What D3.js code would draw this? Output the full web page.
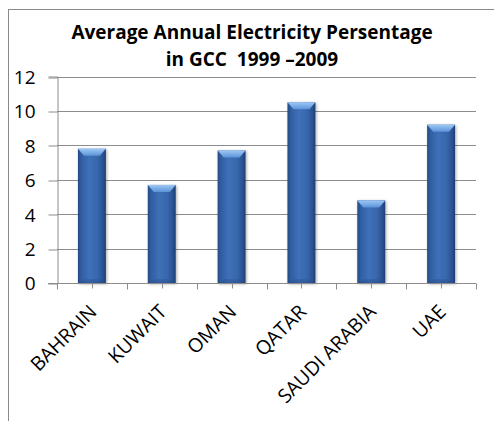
<!DOCTYPE html>
<html>
<head>
<meta charset="utf-8">
<script src="https://cdn.jsdelivr.net/npm/d3@7/dist/d3.min.js"></script>
<style>
  html, body { margin: 0; padding: 0; background: #fff; }
  svg { display: block; }
  text { font-family: "Open Sans", "Liberation Sans", sans-serif; fill: #000; }
</style>
</head>
<body>
<svg id="chart" width="494" height="421"></svg>
<script>
// Average annual electricity growth (%) per GCC country, 1999–2009
const countries = ["BAHRAIN", "KUWAIT", "OMAN", "QATAR", "SAUDI ARABIA", "UAE"];
const percentages = [7.8, 5.7, 7.7, 10.5, 4.8, 9.2];
const yTicks = [0, 2, 4, 6, 8, 10, 12];
const titleLines = ["Average Annual Electricity Persentage", "in GCC  1999 \u20132009"];

const svg = d3.select("#chart");
const W = 494, H = 421;
const plot = { left: 57, right: 476, top: 76.5, bottom: 283 };

// chart area frame (extends past the right and bottom edges)
svg.append("rect")
  .attr("x", 8.5).attr("y", 9.5)
  .attr("width", W).attr("height", H)
  .attr("fill", "#fff").attr("stroke", "#8a8a8a").attr("stroke-width", 1);

const defs = svg.append("defs");

const body = defs.append("linearGradient").attr("id", "barBody")
  .attr("x1", "0%").attr("x2", "100%").attr("y1", "0%").attr("y2", "0%");
[["0%", "#244a84"], ["12%", "#305ea0"], ["40%", "#3e70b8"], ["70%", "#3867ab"], ["90%", "#2a5191"], ["100%", "#1f3d70"]]
  .forEach(([o, c]) => body.append("stop").attr("offset", o).attr("stop-color", c));

const cap = defs.append("linearGradient").attr("id", "barCap")
  .attr("x1", "0%").attr("x2", "0%").attr("y1", "0%").attr("y2", "100%");
[["0%", "#9cc8f5"], ["100%", "#5c93d8"]]
  .forEach(([o, c]) => cap.append("stop").attr("offset", o).attr("stop-color", c));

const foot = defs.append("linearGradient").attr("id", "barFoot")
  .attr("x1", "0%").attr("x2", "0%").attr("y1", "0%").attr("y2", "100%");
[["0%", "#2d5798"], ["100%", "#22427a"]]
  .forEach(([o, c]) => foot.append("stop").attr("offset", o).attr("stop-color", c));

const shadow = defs.append("filter").attr("id", "barShadow")
  .attr("x", "-30%").attr("y", "-10%").attr("width", "160%").attr("height", "120%");
shadow.append("feGaussianBlur").attr("in", "SourceAlpha").attr("stdDeviation", 1.6).attr("result", "b");
shadow.append("feOffset").attr("in", "b").attr("dx", 0.5).attr("dy", 0.5).attr("result", "o");
shadow.append("feComponentTransfer").attr("in", "o").attr("result", "s")
  .append("feFuncA").attr("type", "linear").attr("slope", 0.35);
const merge = shadow.append("feMerge");
merge.append("feMergeNode").attr("in", "s");
merge.append("feMergeNode").attr("in", "SourceGraphic");

// scales
const x = d3.scaleBand().domain(countries)
  .range([plot.left, plot.right]).paddingInner(0.6).paddingOuter(0.3);
const y = d3.scaleLinear().domain([0, 12]).range([plot.bottom, plot.top]);

// horizontal gridlines
svg.append("g")
  .selectAll("line").data(yTicks.filter(d => d > 0)).join("line")
  .attr("x1", plot.left).attr("x2", plot.right)
  .attr("y1", d => Math.round(y(d)) + 0.5).attr("y2", d => Math.round(y(d)) + 0.5)
  .attr("stroke", "#8c8c8c").attr("stroke-width", 1);

// y axis
const yAxis = svg.append("g")
  .attr("transform", `translate(${plot.left + 0.5},0)`)
  .call(d3.axisLeft(y).tickValues(yTicks).tickSize(9).tickPadding(13).tickFormat(d3.format("d")));
yAxis.selectAll("line").attr("stroke", "#8c8c8c")
  .attr("transform", d => `translate(0,${Math.round(y(d)) + 0.5 - y(d)})`);
yAxis.select(".domain").attr("stroke", "#8c8c8c");
yAxis.selectAll("text").attr("font-size", 19).attr("dy", "0.36em")
  .style("font-family", "'Open Sans', sans-serif");

// bars
const bars = svg.append("g").selectAll("g").data(countries).join("g")
  .attr("filter", "url(#barShadow)");
bars.each(function (c, i) {
  const g = d3.select(this);
  const x0 = x(c), w = x.bandwidth();
  const yTop = y(percentages[i]), yBot = y(0);
  const bev = 7, ins = 6;
  g.append("rect").attr("x", x0).attr("y", yTop).attr("width", w).attr("height", yBot - yTop)
    .attr("fill", "url(#barBody)");
  g.append("polygon")
    .attr("points", [[x0 + 1, yBot], [x0 + w - 1, yBot], [x0 + w - ins, yBot - 4], [x0 + ins, yBot - 4]].join(" "))
    .attr("fill", "url(#barFoot)").attr("opacity", 0.4);
  g.append("polygon")
    .attr("points", [[x0, yTop], [x0 + w, yTop], [x0 + w - ins, yTop + bev], [x0 + ins, yTop + bev]].join(" "))
    .attr("fill", "url(#barCap)");
});

// x axis: boundary ticks plus centre ticks
const xAxisG = svg.append("g").attr("transform", `translate(0,${Math.round(plot.bottom) + 0.5})`);
xAxisG.append("line").attr("x1", plot.left - 9).attr("x2", plot.right)
  .attr("stroke", "#8c8c8c");
const step = x.step();
const bounds = d3.range(countries.length + 1).map(k => plot.left + k * step);
xAxisG.selectAll("line.b").data(bounds).join("line").attr("class", "b")
  .attr("x1", d => Math.round(d) + 0.5).attr("x2", d => Math.round(d) + 0.5)
  .attr("y1", 0).attr("y2", 6).attr("stroke", "#8c8c8c");
xAxisG.selectAll("line.c").data(countries).join("line").attr("class", "c")
  .attr("x1", d => Math.round(x(d) + x.bandwidth() / 2) + 0.5)
  .attr("x2", d => Math.round(x(d) + x.bandwidth() / 2) + 0.5)
  .attr("y1", 0).attr("y2", 5).attr("stroke", "#8c8c8c");

// rotated category labels
const xLabels = svg.append("g")
  .attr("transform", `translate(0,${plot.bottom})`)
  .call(d3.axisBottom(x).tickSize(0).tickPadding(0));
xLabels.select(".domain").remove();
xLabels.selectAll("text")
  .attr("font-size", 19.5)
  .style("font-family", "'Open Sans', sans-serif")
  .attr("text-anchor", "end")
  .attr("y", 0).attr("dy", 0)
  .attr("transform", "translate(6,30) rotate(-45)");

// title
svg.append("g").selectAll("text").data(titleLines).join("text")
  .attr("x", 252).attr("y", (d, i) => 39 + i * 27)
  .attr("text-anchor", "middle")
  .attr("font-size", 19).attr("font-weight", "bold")
  .style("white-space", "pre")
  .text(d => d);
</script>
</body>
</html>
